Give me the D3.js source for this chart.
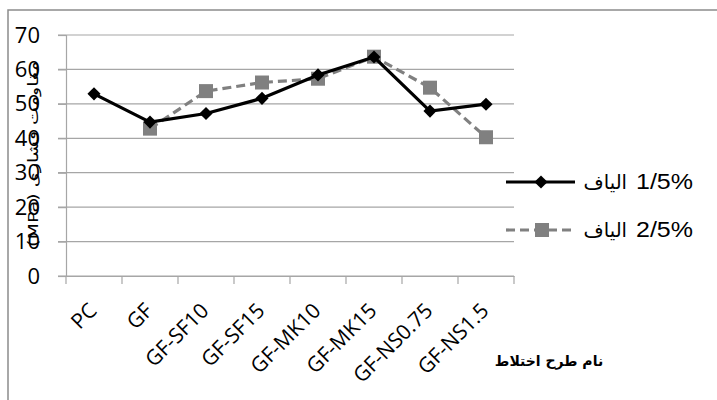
<!DOCTYPE html>
<html><head><meta charset="utf-8">
<script src="https://cdn.jsdelivr.net/npm/d3@7"></script>
<style>body{margin:0;background:#fff}svg{display:block}</style>
</head><body>
<script>
const categories = ["PC","GF","GF-SF10","GF-SF15","GF-MK10","GF-MK15","GF-NS0.75","GF-NS1.5"];
const series1 = [52.9, 44.7, 47.2, 51.6, 58.4, 63.6, 47.9, 49.9];
const series2 = [null, 42.8, 53.7, 56.2, 57.3, 63.7, 54.7, 40.3];
const seriesWord = "الیاف";
const seriesPct = ["1/5%", "2/5%"];
const yTicks = [0,10,20,30,40,50,60,70];
const xTitle = "نام طرح اختلاط";
const yTitle = "مقاومت فشاری (MPa)";

const W = 717, H = 400;
const svg = d3.select("body").append("svg").attr("width", W).attr("height", H);
svg.append("rect").attr("x",8).attr("y",10).attr("width",720).attr("height",400)
  .attr("fill","#fff").attr("stroke","#8c8c8c").attr("stroke-width",1.5);

const x = d3.scaleBand().domain(categories).range([66,514]);
const y = d3.scaleLinear().domain([0,70]).range([276,35]);
const cx = d => x(d) + x.bandwidth()/2;

// gridlines
svg.append("g").selectAll("line").data(yTicks).join("line")
  .attr("x1",58).attr("x2",514).attr("y1",d=>y(d)).attr("y2",d=>y(d))
  .attr("stroke","#a6a6a6").attr("stroke-width",1.2);

// y axis title (drawn under tick labels)
svg.append("text").attr("transform","translate(38,154) rotate(-90)").attr("text-anchor","middle")
  .attr("direction","rtl")
  .attr("font-family","DejaVu Sans, sans-serif").attr("font-size",14)
  .attr("textLength",186).attr("lengthAdjust","spacingAndGlyphs")
  .attr("fill","#000").text(yTitle);

// y axis
const ya = svg.append("g").attr("transform","translate(66,0)")
  .call(d3.axisLeft(y).tickValues(yTicks).tickSize(8).tickPadding(18));
ya.select(".domain").attr("stroke","#a6a6a6").attr("stroke-width",1.2);
ya.selectAll(".tick line").attr("stroke","#a6a6a6").attr("stroke-width",1.2);
ya.selectAll("text").attr("font-family","Open Sans, sans-serif").attr("font-size",22).attr("fill","#000");

// x axis
const xa = svg.append("g").attr("transform","translate(0,276)")
  .call(d3.axisBottom(x).tickSize(0).tickFormat(""));
xa.select(".domain").attr("stroke","#a6a6a6").attr("stroke-width",1.2);
const bounds = categories.map(c => x(c)).concat([x.range()[1]]);
svg.append("g").selectAll("line").data(bounds).join("line")
  .attr("x1",d=>d).attr("x2",d=>d).attr("y1",276).attr("y2",284)
  .attr("stroke","#a6a6a6").attr("stroke-width",1.2);
svg.append("g").selectAll("text").data(categories).join("text")
  .attr("transform", d => `translate(${cx(d)+4},${312}) rotate(-45)`)
  .attr("text-anchor","end").attr("font-family","Open Sans, sans-serif")
  .attr("font-size",21).attr("fill","#000").text(d=>d);

// series 2 (dashed gray squares)
const line = d3.line().defined(d=>d.v!=null).x(d=>cx(d.c)).y(d=>y(d.v));
const d2 = categories.map((c,i)=>({c, v: series2[i]}));
const d1 = categories.map((c,i)=>({c, v: series1[i]}));
svg.append("path").datum(d2).attr("d",line).attr("fill","none")
  .attr("stroke","#808080").attr("stroke-width",3.2).attr("stroke-dasharray","9,5");
svg.append("g").selectAll("rect").data(d2.filter(d=>d.v!=null)).join("rect")
  .attr("x",d=>cx(d.c)-7).attr("y",d=>y(d.v)-7).attr("width",14).attr("height",14)
  .attr("fill","#808080");

// series 1 (black diamonds)
svg.append("path").datum(d1).attr("d",line).attr("fill","none")
  .attr("stroke","#000").attr("stroke-width",3.2);
const diamond = d3.symbol().type(d3.symbolDiamond2).size(110);
svg.append("g").selectAll("path").data(d1).join("path")
  .attr("transform",d=>`translate(${cx(d.c)},${y(d.v)})`).attr("d",diamond).attr("fill","#000");

// legend
const lg = svg.append("g");
lg.append("line").attr("x1",506).attr("x2",575).attr("y1",182).attr("y2",182)
  .attr("stroke","#000").attr("stroke-width",3.2);
lg.append("path").attr("transform","translate(541,182)").attr("d",diamond).attr("fill","#000");
lg.append("line").attr("x1",506).attr("x2",575).attr("y1",230).attr("y2",230)
  .attr("stroke","#808080").attr("stroke-width",3.2).attr("stroke-dasharray","9,5");
lg.append("rect").attr("x",535).attr("y",223).attr("width",14).attr("height",14).attr("fill","#808080");
seriesPct.forEach((p,i) => {
  lg.append("text").attr("x",627).attr("y",189+i*48).attr("text-anchor","end")
    .attr("font-family","DejaVu Sans, sans-serif").attr("font-size",19.5).attr("fill","#000")
    .text(seriesWord);
  lg.append("text").attr("x",636).attr("y",189+i*48)
    .attr("font-family","Liberation Sans, sans-serif").attr("font-size",22)
    .attr("textLength",57).attr("lengthAdjust","spacingAndGlyphs").attr("fill","#000")
    .text(p);
});

// x axis title
svg.append("text").attr("x",549).attr("y",366).attr("text-anchor","middle")
  .attr("font-family","DejaVu Sans, sans-serif").attr("font-weight","bold").attr("font-size",14)
  .attr("fill","#000").text(xTitle);
</script>
</body></html>
